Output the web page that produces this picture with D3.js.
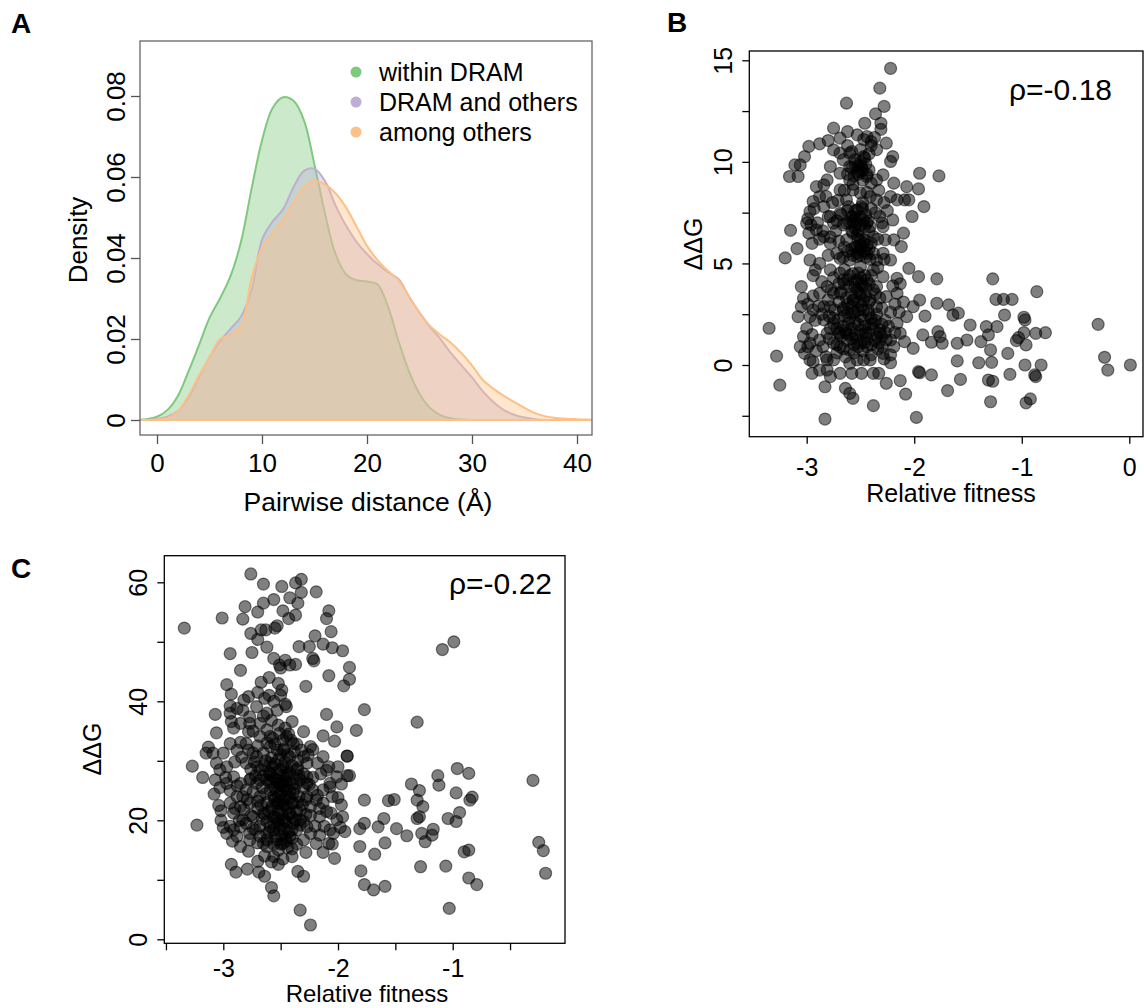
<!DOCTYPE html>
<html>
<head>
<meta charset="utf-8">
<script src="https://cdn.jsdelivr.net/npm/d3@7"></script>
<style>
  body { margin: 0; background: #fff; }
  text { font-family: "Liberation Sans", Arial, Helvetica, sans-serif; fill: #000; }
</style>
</head>
<body>
<svg id="chart" width="1144" height="1008"></svg>
<script>
// ---- panel A: density of pairwise distances ----
var distX = d3.range(-2, 43);   // -2 .. 42 (Å)
var withinDram = [0,0.0002,0.0008,0.0025,0.006,0.012,0.0185,0.0252,0.03,0.0355,0.044,0.057,0.069,0.077,0.0797,0.0788,0.074,0.063,0.051,0.041,0.036,0.0345,0.0342,0.0335,0.028,0.0195,0.012,0.0065,0.003,0.0012,0.0004,0.0001,0,0,0,0,0,0,0,0,0,0,0,0,0];
var dramOthers = [0,0,0.0002,0.0008,0.0022,0.0055,0.0105,0.0155,0.0195,0.0225,0.0255,0.032,0.0445,0.049,0.052,0.0575,0.0615,0.062,0.059,0.053,0.048,0.044,0.041,0.0385,0.0365,0.0348,0.0305,0.0265,0.023,0.02,0.0165,0.0135,0.0105,0.0072,0.0045,0.0025,0.0013,0.0006,0.0002,0,0,0,0,0,0];
var amongOthers = [0,0,0.0001,0.0005,0.0022,0.006,0.011,0.0155,0.02,0.021,0.023,0.035,0.0425,0.046,0.0495,0.0535,0.0575,0.059,0.0582,0.056,0.0525,0.0478,0.043,0.0395,0.0368,0.0345,0.0305,0.0265,0.0232,0.021,0.019,0.0165,0.0135,0.01,0.0078,0.006,0.0045,0.003,0.0017,0.0009,0.0005,0.0003,0.0002,0.0001,0];
var seriesNames = ["within DRAM", "DRAM and others", "among others"];
var seriesColors = ["#7fc97f", "#beaed4", "#fdc086"];
var xTicksA = [0, 10, 20, 30, 40];
var yTicksA = [0, 0.02, 0.04, 0.06, 0.08];

// ---- panel B: relative fitness vs ddG ----
var pointsB = [
[-2.22,14.6],[-2.32,13.63],[-2.63,12.89],[-2.28,12.73],[-2.36,12.36],[-2.31,11.9],[-2.31,11.6],[-2.46,11.9],[-2.75,11.66],[-2.62,11.49],
[-2.98,10.76],[-2.88,10.89],[-2.80,11.05],[-2.69,11.17],[-2.53,11.33],[-2.44,11.25],[-2.40,11.0],[-2.26,10.92],[-2.20,10.26],[-2.22,10.02],
[-3.02,10.26],[-3.11,9.85],[-3.06,9.85],[-3.16,9.28],[-3.08,9.28],[-2.84,8.87],[-2.78,9.77],[-2.69,9.44],[-2.60,9.77],[-2.50,9.52],
[-2.44,9.28],[-2.35,9.11],[-2.29,9.36],[-2.19,8.95],[-1.95,9.44],[-1.77,9.31],[-1.96,8.67],[-2.09,8.13],[-2.05,8.13],[-1.91,7.8],
[-2.02,7.31],[-2.10,6.49],[-2.12,5.83],[-2.20,7.14],[-2.27,6.16],[-2.35,5.17],[-2.44,5.5],[-2.53,5.83],[-2.63,6.98],[-2.57,7.31],
[-2.47,7.14],[-2.41,6.81],[-2.75,6.98],[-2.84,7.8],[-2.94,8.05],[-2.97,7.55],[-3.0,6.98],[-2.98,6.49],[-2.95,5.99],[-2.91,6.65],
[-3.15,6.63],[-3.09,5.73],[-3.20,5.27],[-2.97,5.17],[-2.92,4.68],[-2.78,4.68],[-2.69,5.25],[-2.60,5.17],[-2.50,4.84],[-2.53,4.19],
[-2.60,3.86],[-2.69,3.53],[-2.78,2.87],[-2.84,2.22],[-2.94,2.71],[-3.05,3.86],[-3.03,3.28],[-3.05,2.87],[-3.08,2.38],[-2.97,2.38],
[-2.88,3.53],[-2.81,3.86],[-2.69,4.52],[-2.38,4.68],[-2.29,4.35],[-2.16,4.27],[-2.05,4.76],[-1.96,4.35],[-1.79,4.24],[-1.79,3.04],
[-1.68,2.96],[-1.64,2.46],[-1.59,2.55],[-1.48,1.97],[-1.95,3.2],[-2.01,2.87],[-1.90,2.41],[-2.07,2.38],[-2.16,2.05],[-2.13,1.56],
[-2.22,1.23],[-2.32,1.56],[-2.38,2.05],[-2.47,2.22],[-2.57,2.55],[-2.66,2.71],[-2.75,2.05],[-2.81,1.56],[-2.88,1.23],[-2.97,1.07],
[-3.03,1.4],[-3.06,0.9],[-3.02,0.57],[-2.97,0.25],[-2.94,0.16],[-2.88,-0.25],[-2.81,-0.25],[-2.78,-0.57],[-2.69,-0.41],[-2.64,-1.15],
[-2.60,-1.4],[-2.57,-1.64],[-2.83,-1.07],[-2.95,-0.41],[-2.38,-0.41],[-2.33,-0.41],[-2.26,-0.9],[-2.13,-0.77],[-2.08,-1.43],[-2.22,0.11],
[-2.29,0.57],[-2.19,0.9],[-2.09,1.15],[-2.01,0.82],[-1.92,1.48],[-1.84,1.12],[-1.78,1.64],[-1.76,1.4],[-1.74,1.07],[-1.60,1.07],
[-1.51,1.23],[-1.40,0.11],[-1.57,-0.71],[-1.60,0.2],[-1.69,-1.26],[-1.84,-0.49],[-1.95,-0.38],[-1.96,-0.33],[-1.98,-2.58],[-2.38,-2.0],
[-2.83,-2.66],[-3.25,-0.99],[-3.28,0.44],[-3.35,1.81],[-1.38,1.15],[-1.33,1.89],[-1.31,1.48],[-1.29,0.74],[-1.28,0.13],[-1.23,1.89],
[-1.24,3.23],[-1.17,3.23],[-1.09,3.23],[-1.27,4.24],[-1.16,2.46],[-0.98,2.35],[-0.97,2.22],[-0.98,1.59],[-1.03,1.35],[-1.05,1.2],
[-0.96,0.99],[-0.87,1.56],[-0.78,1.59],[-0.86,3.61],[-1.13,0.57],[-0.97,0],[-0.82,0],[-0.88,-0.49],[-0.87,-0.57],[-1.11,-0.46],
[-1.31,-0.74],[-1.27,-0.8],[-1.29,-1.81],[-0.96,-1.86],[-0.92,-1.67],[-0.29,2.0],[-0.23,0.38],[-0.20,-0.25],[0.01,0],
[-2.63,1.56],[-2.53,1.23],[-2.44,0.9],[-2.60,0.74],[-2.69,0.9],[-2.75,1.07],[-2.50,1.72],[-2.41,3.2],[-2.50,3.53],[-2.44,4.19],
[-2.35,3.86],[-2.26,3.37],[-2.16,3.53],[-2.35,2.87],[-2.63,6.16],[-2.57,6.49],[-2.50,6.16],[-2.78,5.99],[-2.84,6.32],[-2.72,5.5],
[-2.57,8.62],[-2.50,8.46],[-2.60,9.11],[-2.47,10.26],[-2.60,10.43],[-2.69,10.43],[-2.75,10.59],[-2.81,9.11],[-2.91,8.78],[-2.88,8.29],
[-2.69,8.62],[-2.63,8.13],[-2.41,8.29],[-2.35,8.13],[-2.32,7.31],[-2.38,6.32],[-2.29,6.81],[-2.22,8.29],[-2.16,8.13],[-2.07,8.78],
[-2.49,7.8],[-2.53,7.64],[-2.57,7.06],[-2.46,6.16],[-2.50,5.67],[-2.53,5.34],[-2.69,1.56],[-2.60,0.08],[-2.53,0.25],[-2.47,0.25],
[-2.41,0.25],[-2.49,-0.41],[-2.58,-0.41],[-2.75,0.25],[-2.81,0.25],[-2.55,6.73],[-2.52,4.52],[-2.57,3.2],[-2.47,2.71],[-2.61,2.05],
[-2.43,1.56],[-2.53,9.52],[-2.49,9.77],[-2.66,10.1],[-2.32,1.72],[-2.26,1.23],[-2.66,4.19],[-2.75,3.53],[-2.84,2.87],[-2.29,5.5],
[-2.22,5.17],[-2.19,6.16],[-2.40,8.95],[-2.69,7.47],[-2.78,7.31],
[-2.52,9.8],[-2.48,9.6],[-2.45,9.9],[-2.55,10.1],[-2.42,10.4],[-2.50,10.6],[-2.58,10.5],[-2.44,9.4],[-2.56,9.3],[-2.62,10.8],
[-2.40,10.8],[-2.47,11.1],[-2.37,11.2],[-2.35,10.6],[-2.57,8.9],[-2.65,8.6],[-2.71,8.1],[-2.76,8.0],[-2.82,8.3],[-2.93,7.7],
[-2.99,7.2],[-2.96,6.9],[-2.90,7.0],[-2.85,6.6],[-2.78,6.3],[-2.73,6.6],[-2.66,6.9],[-2.54,7.0],[-2.50,7.3],[-2.46,6.8],
[-2.44,7.0],[-2.42,6.6],[-2.52,6.6],[-2.58,7.3],[-2.55,7.6],[-2.61,7.8],[-2.48,8.0],[-2.44,8.5],[-2.33,8.6],[-2.28,8.0],
[-2.25,7.6],[-2.30,7.0],[-2.36,7.5],[-2.50,5.9],[-2.46,5.6],[-2.53,5.5],[-2.44,5.9],[-2.40,6.0],[-2.58,5.7],[-2.65,5.8],
[-2.70,6.1],[-2.80,5.4],[-2.88,5.0],[-2.94,4.4],[-2.86,4.1],[-2.75,4.3],[-2.65,4.7],[-2.57,4.5],[-2.46,4.4],[-2.42,4.0],
[-2.48,3.9],[-2.55,3.8],[-2.51,3.5],[-2.45,3.4],[-2.52,3.1],[-2.58,2.9],[-2.63,3.3],[-2.70,3.1],[-2.80,3.2],[-2.89,2.9],
[-2.92,2.2],[-2.86,2.5],[-2.79,2.4],[-2.71,2.2],[-2.66,1.9],[-2.58,1.8],[-2.52,2.0],[-2.46,1.9],[-2.40,2.3],[-2.35,2.5],
[-2.30,2.8],[-2.27,2.2],[-2.24,1.9],[-2.30,1.4],[-2.37,1.2],[-2.44,1.3],[-2.50,1.1],[-2.56,1.0],[-2.62,1.2],[-2.68,1.4],
[-2.72,1.8],[-2.79,1.3],[-2.85,0.9],[-2.91,0.7],[-2.99,0.9],[-2.82,0.4],[-2.72,0.6],[-2.64,0.4],[-2.56,0.6],[-2.48,0.7],
[-2.40,0.5],[-2.34,0.8],[-2.28,0.3],[-2.22,0.5],[-2.18,1.6],[-2.14,2.6],[-2.10,3.1],[-2.18,3.0],[-2.22,2.6],[-2.20,3.9],
[-2.13,4.0],[-2.32,3.3],[-2.38,3.7],[-2.34,4.8],[-2.28,5.2],[-2.41,5.2],[-2.62,4.2],[-2.70,4.0],[-2.77,3.7],[-2.94,3.4],
[-2.99,3.0],[-3.00,1.8],[-2.95,1.5],[-2.60,2.3],[-2.55,2.6],[-2.49,2.9],[-2.43,2.7],[-2.38,1.8],[-2.66,2.8],[-2.74,2.7],
[-2.60,7.0],[-2.55,7.2],[-2.50,6.9],[-2.45,7.4],[-2.58,6.6],[-2.62,7.6],[-2.48,7.7],[-2.53,6.4],[-2.43,7.1],[-2.40,7.7],
[-2.55,5.8],[-2.50,5.4],[-2.47,6.0],[-2.52,6.2],[-2.45,5.3],[-2.57,5.4],[-2.42,5.7],
[-2.65,4.0],[-2.60,4.4],[-2.55,4.1],[-2.50,4.3],[-2.45,3.8],[-2.40,4.4],[-2.58,3.5],[-2.53,3.7],[-2.47,3.2],[-2.62,3.0],
[-2.68,3.6],[-2.42,3.1],[-2.36,3.5],[-2.56,3.2],[-2.49,4.0],
[-2.75,2.3],[-2.70,1.6],[-2.65,2.4],[-2.60,1.5],[-2.55,2.1],[-2.50,2.4],[-2.45,1.6],[-2.40,2.0],[-2.35,1.4],[-2.30,2.0],
[-2.72,1.0],[-2.66,0.8],[-2.58,1.3],[-2.52,0.9],[-2.46,1.1],[-2.40,1.0],[-2.33,1.1],[-2.27,1.6],[-2.62,2.6],[-2.55,1.5],
[-2.48,1.5],[-2.42,2.5],[-2.78,1.8],[-2.64,1.7],[-2.52,2.7],[-2.36,2.2],[-2.30,0.9],
[-2.55,9.9],[-2.50,10.0],[-2.46,10.2],[-2.52,9.4],[-2.58,9.7],[-2.48,9.1],[-2.42,9.6],[-2.62,9.4],
[-2.72,7.1],[-2.68,7.4],[-2.80,7.3],[-2.88,6.2],[-2.66,5.3],[-2.62,5.6],[-2.38,5.5],[-2.34,6.2]
];
var xTicksB = [-3, -2, -1, 0];
var yTicksB = [-2.5, 0, 2.5, 5, 7.5, 10, 12.5, 15];
var rhoB = "ρ=-0.18";

// ---- panel C: relative fitness vs ddG ----
var pointsC = [
[-3.34,52.3],[-3.01,54.0],[-2.76,61.4],[-2.65,59.7],[-2.49,59.3],[-2.37,59.9],[-2.32,60.5],[-2.19,58.4],[-2.56,57.1],[-2.65,56.5],
[-2.81,55.9],[-2.70,55.0],[-2.83,53.8],[-2.48,55.2],[-2.42,57.4],[-2.35,56.5],[-2.32,58.3],[-2.37,54.5],[-2.43,53.9],[-2.08,55.2],
[-2.10,53.9],[-2.76,51.4],[-2.67,52.0],[-2.63,52.0],[-2.53,52.7],[-2.55,52.3],[-2.70,50.4],[-2.62,49.1],[-2.75,48.2],[-2.94,48.0],
[-2.85,45.2],[-2.97,42.8],[-2.93,41.2],[-2.78,40.8],[-2.67,43.2],[-2.56,47.2],[-2.51,46.1],[-2.46,46.9],[-2.42,46.1],[-2.37,46.2],
[-2.50,45.6],[-2.52,43.0],[-2.49,41.9],[-2.46,39.5],[-2.60,41.0],[-2.28,42.5],[-2.34,49.2],[-2.25,49.2],[-2.20,51.0],[-2.13,49.6],
[-2.22,47.2],[-2.05,49.0],[-1.96,48.5],[-1.90,45.7],[-1.90,43.7],[-1.95,42.6],[-2.08,44.3],[-2.06,51.7],[-2.21,46.8],[-3.07,37.8],
[-3.06,34.7],[-2.94,39.2],[-2.93,36.6],[-2.91,35.5],[-2.77,36.3],[-2.85,33.1],[-2.78,34.9],[-2.10,37.8],[-2.01,35.7],[-2.03,33.3],
[-2.13,34.2],[-1.84,35.1],[-1.77,38.6],[-2.30,34.9],[-2.22,31.9],[-1.92,30.8],[-1.90,27.5],[-1.97,26.1],[-2.07,25.6],[-2.27,29.6],
[-3.13,32.3],[-3.15,31.3],[-3.27,29.1],[-3.18,27.2],[-3.07,26.8],[-3.03,25.5],[-3.02,21.6],[-2.94,19.0],[-3.23,19.2],[-2.93,12.6],
[-2.89,11.3],[-2.79,11.8],[-2.70,13.1],[-2.69,11.3],[-2.64,10.6],[-2.56,13.9],[-2.52,12.6],[-2.58,8.7],[-2.56,7.3],[-2.35,11.4],
[-2.30,10.6],[-2.33,4.9],[-2.24,2.4],[-2.40,13.9],[-2.28,14.6],[-2.13,14.6],[-2.03,13.6],[-2.05,16.0],[-1.96,20.6],[-1.94,18.1],
[-1.97,22.6],[-1.92,27.5],[-1.92,30.8],[-2.00,29.0],[-1.77,23.4],[-1.81,18.6],[-1.77,19.5],[-1.81,15.6],[-1.80,11.5],[-1.77,9.2],
[-1.69,8.3],[-1.59,8.9],[-1.68,14.3],[-1.59,16.2],[-1.60,20.3],[-1.65,18.9],[-1.56,23.3],[-1.51,23.5],[-1.49,18.6],[-1.40,17.4],
[-1.36,26.1],[-1.29,25.0],[-1.31,23.4],[-1.26,22.3],[-1.29,20.6],[-1.31,20.3],[-1.27,17.8],[-1.24,16.4],[-1.18,17.5],[-1.17,18.5],
[-1.13,27.5],[-1.12,25.9],[-1.04,20.3],[-0.97,19.8],[-0.97,24.6],[-0.96,28.7],[-0.94,21.3],[-0.86,27.9],[-0.83,23.9],[-0.85,23.4],
[-0.90,14.7],[-0.86,15.0],[-0.86,10.3],[-0.79,9.2],[-1.28,12.2],[-1.06,12.3],[-1.03,5.2],[-1.09,48.7],[-0.99,50.0],[-1.31,36.5],
[-0.30,26.7],[-0.25,16.3],[-0.21,14.9],[-0.19,11.1],
[-2.83,24.0],[-2.72,18.4],[-3.0,18.8],[-2.88,17.3],[-2.77,16.7],[-2.68,17.3],[-2.62,16.7],[-2.48,16.1],[-2.36,18.4],[-2.24,17.8],
[-2.16,17.5],[-2.08,16.1],[-2.16,20.6],[-2.24,22.3],[-2.33,21.7],[-2.39,22.9],[-2.36,26.2],[-2.27,26.2],[-2.13,25.1],[-2.30,30.7],
[-2.39,32.9],[-2.51,34.6],[-2.62,35.2],[-2.68,34.1],[-2.80,32.9],[-2.88,31.8],[-3.0,31.3],[-3.06,29.6],[-2.97,29.0],[-2.91,27.3],
[-2.85,26.2],[-2.77,26.8],[-2.68,28.5],[-2.59,29.6],[-2.48,29.0],[-2.36,28.5],[-2.27,27.3],[-2.22,25.1],[-2.19,23.4],[-2.27,24.0],
[-2.39,24.5],[-2.48,25.7],[-2.59,25.1],[-2.68,24.0],[-2.77,22.9],[-2.85,22.3],[-2.91,21.2],[-2.83,20.1],[-2.74,20.6],[-2.65,21.2],
[-2.56,20.6],[-2.48,20.1],[-2.42,21.2],[-2.33,20.1],[-2.27,18.9],[-2.53,22.9],[-2.62,26.8],[-2.71,30.7],[-2.80,29.6],[-2.48,31.8],
[-2.42,30.7],[-2.53,31.8],[-2.59,32.4],[-2.65,31.3],[-2.74,31.3],[-2.39,19.5],[-2.51,18.4],[-2.59,18.9],[-2.48,22.3],[-2.45,24.0],
[-2.53,26.8],[-2.59,27.9],[-2.71,26.2],[-2.80,25.1],[-2.88,24.0],[-2.94,22.9],[-2.97,26.2],[-3.03,28.5],[-3.09,31.3],[-2.94,32.9],
[-2.85,36.3],[-2.77,37.4],[-2.71,39.1],[-2.62,38.0],[-2.53,38.5],[-2.45,39.1],[-2.94,38.0],[-2.83,38.5],[-2.68,36.3],[-2.59,34.1],
[-2.45,34.1],[-2.32,31.8],[-2.24,32.4],[-2.13,30.7],[-2.08,29.0],[-2.01,27.3],[-2.07,26.2],[-2.13,22.9],[-2.06,21.2],[-2.01,20.1],
[-2.07,18.4],[-2.19,16.1],[-2.30,16.7],[-2.42,17.3],[-2.53,16.7],[-2.65,16.1],[-2.77,17.8],[-2.85,18.9],[-2.91,18.4],[-2.51,26.2],
[-2.45,27.3],[-2.56,24.0],
[-2.60,28.0],[-2.55,27.0],[-2.50,28.5],[-2.45,26.5],[-2.42,28.0],[-2.38,27.0],[-2.48,27.5],[-2.57,29.0],[-2.63,30.0],[-2.52,30.2],
[-2.46,29.8],[-2.40,29.2],[-2.35,30.0],[-2.33,26.8],[-2.30,25.5],[-2.34,24.0],[-2.42,25.0],[-2.50,24.5],[-2.55,23.5],[-2.62,23.0],
[-2.66,25.5],[-2.72,27.5],[-2.76,28.6],[-2.70,29.0],[-2.74,24.8],[-2.79,23.5],[-2.70,22.0],[-2.64,21.0],[-2.58,22.0],[-2.52,21.5],
[-2.46,22.5],[-2.40,23.0],[-2.36,21.5],[-2.31,22.6],[-2.28,21.0],[-2.33,19.2],[-2.40,18.5],[-2.45,19.6],[-2.50,19.0],[-2.56,19.5],
[-2.62,19.8],[-2.68,19.0],[-2.74,18.6],[-2.80,19.5],[-2.86,20.0],[-2.90,22.0],[-2.82,21.8],[-2.88,25.8],[-2.94,25.0],[-2.98,27.2],
[-2.90,29.8],[-2.84,30.6],[-2.78,31.8],[-2.70,32.5],[-2.62,33.0],[-2.55,32.8],[-2.47,32.0],[-2.41,33.5],[-2.36,32.8],[-2.58,36.8],
[-2.52,36.0],[-2.46,35.5],[-2.40,36.6],[-2.65,37.5],[-2.74,35.0],[-2.46,17.0],[-2.56,16.0],[-2.62,17.8],[-2.70,16.2],[-2.52,15.0],
[-2.44,15.4],[-2.36,16.0],[-2.30,19.8],[-2.24,20.8],[-2.20,19.0],[-2.16,22.0],[-2.18,24.2],[-2.22,27.2],[-2.15,27.8],[-2.10,28.4],
[-2.18,29.6],[-2.26,31.0],[-2.05,24.0],[-2.10,21.5],[-2.12,19.0],[-2.04,17.8],[-1.98,18.8],[-2.00,23.8],[-3.04,22.5],[-3.08,24.4],
[-3.02,20.0],[-2.97,17.8],[-2.92,16.5],[-2.85,15.6],[-2.78,14.8],[-2.64,14.0],[-2.58,13.0],[-2.48,13.5],[-2.40,15.2],[-2.56,40.0],
[-2.50,41.0],[-2.64,40.5],[-2.70,41.5],[-2.82,40.2],[-2.88,38.8],[-2.60,44.0],[-2.53,24.8],[-2.47,25.8],[-2.57,26.3],[-2.43,21.0],
[-2.37,20.0],[-2.53,20.4],[-2.60,18.0],[-2.67,22.5],[-2.76,20.8],[-2.35,28.8],[-2.30,27.8],[-2.25,26.0],[-2.28,23.5],[-2.48,23.0],
[-2.58,27.5],[-2.53,28.0],[-2.48,26.5],[-2.44,27.8],[-2.40,26.0],[-2.55,25.5],[-2.50,26.0],[-2.45,25.0],[-2.52,24.0],[-2.47,23.5],
[-2.42,23.8],[-2.57,22.5],[-2.52,22.8],[-2.44,22.0],[-2.49,21.0],[-2.55,20.5],[-2.46,20.0],[-2.40,20.5],[-2.52,19.5],[-2.47,18.5],
[-2.43,18.0],[-2.56,18.4],[-2.49,17.5],[-2.60,21.5],[-2.63,24.5],[-2.60,26.5],[-2.65,27.5],[-2.58,30.5],[-2.50,31.0],[-2.44,31.0],
[-2.38,31.5],[-2.55,29.5],[-2.45,28.8],[-2.38,25.2],[-2.35,23.0],[-2.64,29.2],[-2.68,26.8],[-2.66,20.2],[-2.70,23.2],[-2.34,27.5],
[-2.50,16.0],[-2.45,16.5],[-2.40,17.0],[-2.55,17.2],[-2.62,15.6],[-2.48,33.5],[-2.57,33.8],[-2.43,34.5],[-2.76,27.0],[-2.73,29.8]
];
var xTicksC = [-3.5, -3, -2.5, -2, -1.5, -1, -0.5];
var yTicksC = [0, 10, 20, 30, 40, 50, 60];
var rhoC = "ρ=-0.22";

var svg = d3.select("#chart");

// ================= Panel A =================
var boxA = {l: 140, r: 592, t: 41, b: 435};
var xA = d3.scaleLinear().domain([0, 40]).range([157, 577]);
var yA = d3.scaleLinear().domain([0, 0.08]).range([420, 96]);

svg.append("clipPath").attr("id", "clipA").append("rect")
  .attr("x", boxA.l).attr("y", boxA.t).attr("width", boxA.r - boxA.l).attr("height", boxA.b - boxA.t);

var densSeries = [withinDram, dramOthers, amongOthers].map(function(vals) {
  return vals.map(function(v, i) { return {x: distX[i], y: v}; });
});

var areaA = d3.area()
  .x(function(d) { return xA(d.x); })
  .y0(yA(0))
  .y1(function(d) { return yA(Math.max(0, d.y)); })
  .curve(d3.curveCatmullRom.alpha(0.5));

var gA = svg.append("g").attr("clip-path", "url(#clipA)");
densSeries.forEach(function(s, i) {
  gA.append("path").datum(s)
    .attr("d", areaA)
    .attr("fill", seriesColors[i])
    .attr("fill-opacity", 0.4)
    .attr("stroke", seriesColors[i])
    .attr("stroke-width", 2);
});

svg.append("rect")
  .attr("x", boxA.l).attr("y", boxA.t).attr("width", boxA.r - boxA.l).attr("height", boxA.b - boxA.t)
  .attr("fill", "none").attr("stroke", "#666").attr("stroke-width", 1.3);

var axA_x = svg.append("g").attr("transform", "translate(0," + boxA.b + ")")
  .call(d3.axisBottom(xA).tickValues(xTicksA).tickSize(9).tickSizeOuter(0).tickFormat(d3.format("d")));
var axA_y = svg.append("g").attr("transform", "translate(" + boxA.l + ",0)")
  .call(d3.axisLeft(yA).tickValues(yTicksA).tickSize(9).tickSizeOuter(0)
    .tickFormat(function(d) { return d === 0 ? "0" : d.toFixed(2); }));

function styleAxis(g, col, fontSize) {
  g.select(".domain").remove();
  g.selectAll("line").attr("stroke", col).attr("stroke-width", 1.3);
  g.selectAll("text").attr("font-size", fontSize).attr("fill", "#000")
    .style("font-family", "'Liberation Sans', Arial, sans-serif");
}
styleAxis(axA_x, "#555", 26);
styleAxis(axA_y, "#555", 26);
axA_x.selectAll("text").attr("y", 37).attr("dy", 0);
axA_y.selectAll("text").attr("x", 0).attr("y", -15).attr("dy", 0)
  .attr("text-anchor", "middle").attr("transform", "rotate(-90)");

svg.append("text").attr("x", 368).attr("y", 511).attr("text-anchor", "middle")
  .attr("font-size", 26.5).text("Pairwise distance (Å)");
svg.append("text").attr("transform", "translate(87,240) rotate(-90)").attr("text-anchor", "middle")
  .attr("font-size", 26).text("Density");

var legA = svg.append("g");
seriesNames.forEach(function(name, i) {
  var yy = 72 + i * 30;
  legA.append("circle").attr("cx", 356).attr("cy", yy).attr("r", 5.5).attr("fill", seriesColors[i]);
  legA.append("text").attr("x", 379).attr("y", yy + 9).attr("font-size", 25).text(name);
});

svg.append("text").attr("x", 11).attr("y", 33).attr("font-size", 28).attr("font-weight", "bold").text("A");

// ================= scatter helper =================
function scatterPanel(opts) {
  var box = opts.box;
  var x = d3.scaleLinear().domain(opts.xDom).range(opts.xRange);
  var y = d3.scaleLinear().domain(opts.yDom).range(opts.yRange);
  var id = "clip" + opts.name;
  svg.append("clipPath").attr("id", id).append("rect")
    .attr("x", box.l).attr("y", box.t).attr("width", box.r - box.l).attr("height", box.b - box.t);

  svg.append("g").attr("clip-path", "url(#" + id + ")")
    .selectAll("circle")
    .data(opts.points)
    .enter()
    .append("circle")
    .attr("cx", function(d) { return x(d[0]); })
    .attr("cy", function(d) { return y(d[1]); })
    .attr("r", 6)
    .attr("fill", "rgba(0,0,0,0.5)")
    .attr("stroke", "rgba(0,0,0,0.5)")
    .attr("stroke-width", 1.2);

  svg.append("rect")
    .attr("x", box.l).attr("y", box.t).attr("width", box.r - box.l).attr("height", box.b - box.t)
    .attr("fill", "none").attr("stroke", "#000").attr("stroke-width", 1.3);

  var ax = svg.append("g").attr("transform", "translate(0," + box.b + ")")
    .call(d3.axisBottom(x).tickValues(opts.xTicks).tickSize(7).tickSizeOuter(0)
      .tickFormat(function(d) { return d % 1 === 0 ? d3.format("d")(d) : ""; }));
  var ay = svg.append("g").attr("transform", "translate(" + box.l + ",0)")
    .call(d3.axisLeft(y).tickValues(opts.yTicks).tickSize(7).tickSizeOuter(0)
      .tickFormat(function(d) { return d % opts.yLabelStep === 0 ? d3.format("d")(d) : ""; }));
  styleAxis(ax, "#000", 25);
  styleAxis(ay, "#000", 25);
  ax.selectAll("text").attr("y", opts.xLabOff).attr("dy", 0).text(function(d) {
    return d % 1 === 0 ? String(d) : "";
  });
  ay.selectAll("text").attr("x", 0).attr("y", -17.6).attr("dy", 0)
    .attr("text-anchor", "middle").attr("transform", "rotate(-90)");

  svg.append("text").attr("x", opts.xTitle[0]).attr("y", opts.xTitle[1]).attr("text-anchor", "middle")
    .attr("font-size", opts.xTitleSize).text("Relative fitness");
  svg.append("text").attr("transform", "translate(" + opts.yTitle[0] + "," + opts.yTitle[1] + ") rotate(-90)")
    .attr("text-anchor", "middle").attr("font-size", 25).text("ΔΔG");
  svg.append("text").attr("x", opts.rhoPos[0]).attr("y", opts.rhoPos[1]).attr("text-anchor", "end")
    .attr("font-size", 30).text(opts.rho);
  svg.append("text").attr("x", opts.letterPos[0]).attr("y", opts.letterPos[1])
    .attr("font-size", 28).attr("font-weight", "bold").text(opts.name);
}

// ================= Panel B =================
scatterPanel({
  name: "B",
  box: {l: 749.3, r: 1143, t: 51, b: 436.7},
  xDom: [-3, 0], xRange: [806.7, 1129.3],
  yDom: [0, 15], yRange: [365, 60.3],
  xTicks: xTicksB, yTicks: yTicksB, yLabelStep: 5,
  points: pointsB,
  xLabOff: 39.5,
  xTitle: [951, 502], xTitleSize: 25, yTitle: [702, 244],
  rho: rhoB, rhoPos: [1112, 100],
  letterPos: [667, 32]
});

// ================= Panel C =================
scatterPanel({
  name: "C",
  box: {l: 164.3, r: 565, t: 555.7, b: 943.3},
  xDom: [-3, -1], xRange: [223.3, 452.7],
  yDom: [0, 60], yRange: [939.3, 582.3],
  xTicks: xTicksC, yTicks: yTicksC, yLabelStep: 20,
  points: pointsC,
  xLabOff: 34,
  xTitle: [367, 1002], xTitleSize: 24, yTitle: [101, 749],
  rho: rhoC, rhoPos: [552, 594],
  letterPos: [11, 578]
});
</script>
</body>
</html>
